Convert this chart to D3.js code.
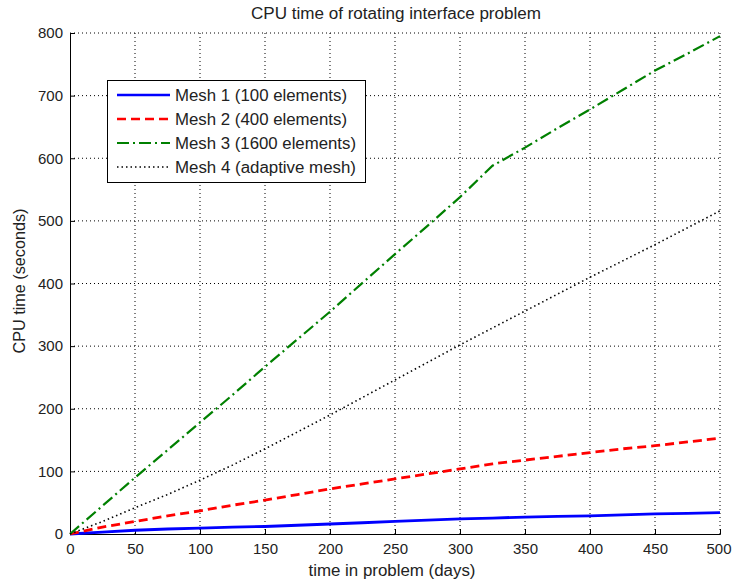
<!DOCTYPE html>
<html><head><meta charset="utf-8">
<script src="https://cdn.jsdelivr.net/npm/d3@7"></script>
<style>body{margin:0;background:#fff;}svg{display:block;font-family:"Liberation Sans",Arial,sans-serif;}</style>
</head><body>
<svg id="c" width="732" height="584"></svg>
<script>
const days = [0,25,50,75,100,125,150,175,200,225,250,275,300,325,350,375,400,425,450,475,500];
const mesh1 = [0,3,6,8,9.5,11,12,14,16,18,20,22,24,25.5,27,28,29,30.5,32,33,34];
const mesh2 = [0,11,20,29,37,46,54,63,72,80,88,96,104,112,118,124,130,136,141,147,153];
const mesh3 = [0,45,90,134,178,222,267,311,355,401,447,492,538,588,617,648,678,709,740,767,795];
const mesh4 = [0,20,42,63,86,110,136,163,190,218,246,274,302,329,356,383,410,436,462,489,516];
const seriesNames = ["Mesh 1 (100 elements)","Mesh 2 (400 elements)","Mesh 3 (1600 elements)","Mesh 4 (adaptive mesh)"];
const xTicks = [0,50,100,150,200,250,300,350,400,450,500];
const yTicks = [0,100,200,300,400,500,600,700,800];

const svg = d3.select("#c");
const L=70,R=720,T=33,B=534;
const FS=16, TFS=15;
const x = d3.scaleLinear().domain([0,500]).range([L,R]);
const y = d3.scaleLinear().domain([0,800]).range([B,T]);

// grid
const g = svg.append("g");
g.selectAll(".gx").data(xTicks.slice(1)).enter().append("line")
  .attr("x1",d=>x(d)).attr("x2",d=>x(d)).attr("y1",B).attr("y2",T)
  .attr("stroke","#000").attr("stroke-width",1).attr("stroke-dasharray","1,3");
g.selectAll(".gy").data(yTicks.slice(1)).enter().append("line")
  .attr("y1",d=>y(d)).attr("y2",d=>y(d)).attr("x1",L).attr("x2",R)
  .attr("stroke","#000").attr("stroke-width",1).attr("stroke-dasharray","1,3");

// axes
const xa = svg.append("g").attr("transform",`translate(0,${B})`)
  .call(d3.axisBottom(x).tickValues(xTicks).tickSize(-5).tickPadding(9).tickFormat(d3.format("d")));
const ya = svg.append("g").attr("transform",`translate(${L},0)`)
  .call(d3.axisLeft(y).tickValues(yTicks).tickSize(-5).tickPadding(7).tickFormat(d3.format("d")));
[xa,ya].forEach(a=>{
  a.select(".domain").attr("stroke","#000").attr("stroke-width",1);
  a.selectAll("text").attr("font-size",TFS).attr("fill","#222").attr("font-family","Liberation Sans, Arial, sans-serif");
  a.selectAll(".tick line").attr("stroke","#000");
});
// keep the last x tick label inside the window
xa.selectAll(".tick text").filter(d=>d===500).attr("text-anchor","end").attr("x",11);

const styles = [
  {data:mesh1,color:"#0000ff",w:2.8,dash:null},
  {data:mesh2,color:"#ff0000",w:2.8,dash:"9,5"},
  {data:mesh3,color:"#008000",w:2.2,dash:"12,4,2,4"},
  {data:mesh4,color:"#000000",w:1.6,dash:"1.5,3"}
];
const line = d3.line().x((d,i)=>x(days[i])).y(d=>y(d));
styles.forEach(s=>{
  svg.append("path").datum(s.data).attr("d",line).attr("fill","none")
    .attr("stroke",s.color).attr("stroke-width",s.w)
    .attr("stroke-dasharray",s.dash);
});

// legend
const lg = svg.append("g");
lg.append("rect").attr("x",107.5).attr("y",80.5).attr("width",258).attr("height",102)
  .attr("fill","#fff").attr("stroke","#000").attr("stroke-width",1);
const ly=[95,119,143,167];
const lw=[172,172,181,181];
styles.forEach((s,i)=>{
  lg.append("line").attr("x1",117).attr("x2",170).attr("y1",ly[i]).attr("y2",ly[i])
    .attr("stroke",s.color).attr("stroke-width",Math.min(s.w,2.4)).attr("stroke-dasharray",s.dash);
  lg.append("text").attr("x",175).attr("y",ly[i]+6).attr("font-size",FS).attr("fill","#222")
    .attr("textLength",lw[i]).attr("lengthAdjust","spacingAndGlyphs").text(seriesNames[i]);
});

svg.append("text").attr("x",396).attr("y",19).attr("text-anchor","middle").attr("font-size",FS).attr("fill","#222")
  .attr("textLength",290).attr("lengthAdjust","spacingAndGlyphs")
  .text("CPU time of rotating interface problem");
svg.append("text").attr("x",392).attr("y",576).attr("text-anchor","middle").attr("font-size",FS).attr("fill","#222")
  .attr("textLength",167).attr("lengthAdjust","spacingAndGlyphs")
  .text("time in problem (days)");
svg.append("text").attr("transform","translate(25,281) rotate(-90)").attr("text-anchor","middle").attr("font-size",FS).attr("fill","#222")
  .attr("textLength",145).attr("lengthAdjust","spacingAndGlyphs")
  .text("CPU time (seconds)");
</script>
</body></html>
